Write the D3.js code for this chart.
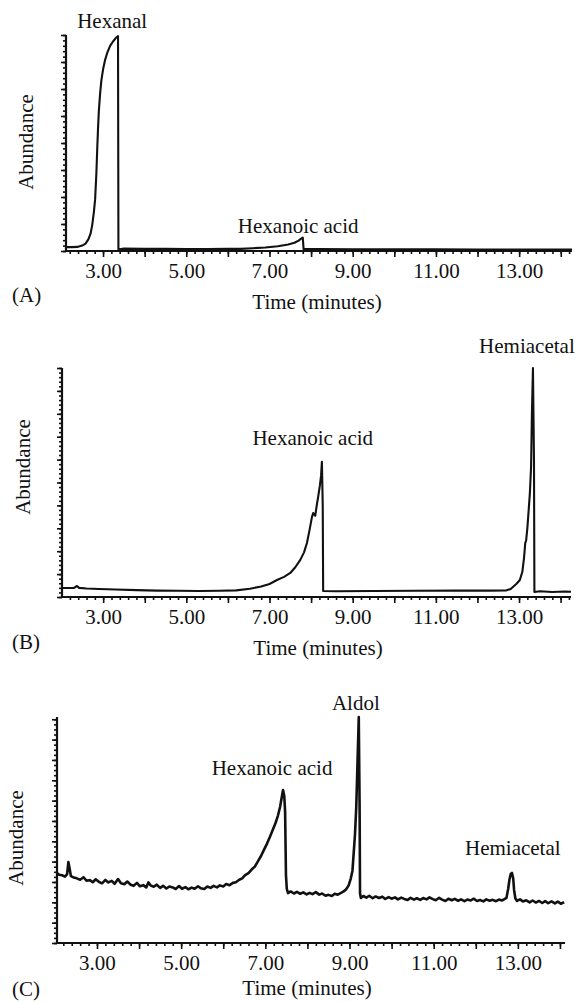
<!DOCTYPE html>
<html>
<head>
<meta charset="utf-8">
<script src="https://cdn.jsdelivr.net/npm/d3@7"></script>
<style>
  body { margin: 0; background: #fff; }
  svg { display: block; }
  text { font-family: "Liberation Serif", "DejaVu Serif", serif; font-size: 21px; fill: #111; }
</style>
</head>
<body>
<div id="chart"></div>
<script>
// Time axis labels (minutes)
const timeTicks = [3, 5, 7, 9, 11, 13];

// Chromatogram traces: [time (min), relative abundance]
const traceA = [
  [2.11, 1.8], [2.25, 1.8], [2.38, 1.9], [2.50, 2.5], [2.58, 3.4], [2.65, 5.5], [2.70, 8.0],
  [2.74, 12], [2.78, 18], [2.81, 24], [2.84, 36], [2.86, 47], [2.88, 57], [2.90, 65],
  [2.93, 73], [2.96, 79], [3.00, 84], [3.05, 88.5], [3.10, 91.7], [3.17, 95], [3.24, 97],
  [3.31, 98.7], [3.36, 99.5], [3.37, 0.7], [3.50, 1.1], [4.00, 1.0], [4.50, 1.0], [5.00, 0.9],
  [5.50, 0.9], [6.00, 1.0], [6.30, 1.0], [6.60, 1.3], [6.90, 1.6], [7.20, 2.2], [7.45, 3.0],
  [7.60, 3.8], [7.70, 4.8], [7.78, 6.0], [7.80, 6.2], [7.82, 0.9], [8.20, 0.9], [9.00, 0.8],
  [10.0, 0.8], [11.0, 0.8], [12.0, 0.7], [13.0, 0.7], [14.27, 0.7]
];

const traceB = [
  [2.01, 3.9], [2.15, 3.9], [2.30, 4.0], [2.37, 4.8], [2.42, 4.0], [2.60, 3.7], [2.90, 3.5],
  [3.30, 3.3], [3.80, 3.0], [4.30, 2.8], [4.80, 2.7], [5.30, 2.6], [5.80, 2.7], [6.20, 2.9],
  [6.53, 3.6], [6.80, 4.6], [7.00, 5.7], [7.18, 7.4], [7.35, 8.8], [7.50, 10.5], [7.62, 13.0],
  [7.74, 16.2], [7.83, 19.5], [7.90, 23.6], [7.96, 29], [8.02, 34.9], [8.05, 36.7], [8.07, 36.0],
  [8.10, 35.5], [8.14, 40.5], [8.17, 43.7], [8.21, 48.5], [8.24, 53.0], [8.26, 59.0], [8.28, 40],
  [8.29, 2.6], [8.60, 2.5], [9.50, 2.6], [10.5, 2.7], [11.5, 2.8], [12.3, 2.8], [12.70, 2.9],
  [12.80, 3.5], [12.86, 4.5], [12.94, 5.8], [13.02, 7.4], [13.08, 11], [13.12, 17], [13.15, 23.6],
  [13.17, 24.5], [13.20, 30], [13.22, 34.9], [13.26, 45], [13.29, 56.8], [13.31, 80], [13.335, 100],
  [13.36, 60], [13.37, 2.2], [13.50, 2.5], [13.80, 2.2], [14.10, 2.4], [14.25, 2.3]
];

const traceC = [
  [2.05, 31.0], [2.10, 30.2], [2.17, 30.0], [2.24, 29.4], [2.29, 30.5], [2.32, 35.8], [2.35, 33.0],
  [2.38, 29.6], [2.45, 29.0], [2.52, 28.6], [2.60, 28.0], [2.68, 29.1], [2.75, 27.6], [2.83, 27.8],
  [2.90, 26.9], [2.97, 28.2], [3.05, 27.0], [3.12, 26.4], [3.20, 27.9], [3.27, 26.8], [3.35, 27.5],
  [3.42, 26.2], [3.50, 28.3], [3.57, 26.4], [3.65, 26.0], [3.72, 27.2], [3.80, 25.8], [3.87, 25.3],
  [3.95, 26.6], [4.02, 25.1], [4.10, 25.6], [4.17, 24.6], [4.22, 26.8], [4.28, 25.4], [4.35, 24.9],
  [4.42, 25.8], [4.50, 24.4], [4.57, 25.3], [4.65, 24.1], [4.72, 25.0], [4.80, 24.6], [4.87, 23.9],
  [4.95, 25.2], [5.02, 24.0], [5.10, 24.7], [5.17, 23.8], [5.25, 24.5], [5.32, 24.0], [5.40, 25.1],
  [5.47, 24.2], [5.55, 23.9], [5.62, 25.0], [5.70, 24.4], [5.77, 25.3], [5.85, 24.6], [5.92, 25.5],
  [6.00, 25.0], [6.07, 26.1], [6.15, 25.6], [6.23, 26.6], [6.30, 26.9], [6.38, 28.0], [6.45, 28.6],
  [6.52, 30.0], [6.60, 30.9], [6.68, 32.6], [6.75, 33.8], [6.82, 36.0], [6.90, 38.6], [6.97, 41.3],
  [7.04, 44.0], [7.11, 47.0], [7.18, 50.2], [7.24, 53.0], [7.30, 56.4], [7.35, 60.2], [7.39, 64.5],
  [7.42, 67.7], [7.45, 65.0], [7.47, 58.0], [7.49, 30.0], [7.51, 24.0], [7.54, 22.1], [7.60, 22.8],
  [7.68, 21.9], [7.75, 22.6], [7.83, 21.8], [7.90, 22.4], [7.98, 21.5], [8.05, 22.2], [8.12, 21.6],
  [8.20, 22.5], [8.28, 21.4], [8.35, 21.9], [8.43, 20.9], [8.50, 21.3], [8.58, 20.8], [8.65, 21.8],
  [8.72, 21.4], [8.80, 22.2], [8.86, 22.8], [8.92, 23.8], [8.98, 25.5], [9.03, 28.5], [9.07, 32.0],
  [9.10, 40.0], [9.13, 48.0], [9.16, 60.0], [9.19, 80.0], [9.22, 100], [9.24, 60.0], [9.25, 22.0],
  [9.27, 19.9], [9.33, 20.8], [9.40, 20.1], [9.47, 20.9], [9.55, 19.8], [9.62, 20.6], [9.70, 19.9],
  [9.78, 20.5], [9.85, 19.5], [9.93, 20.3], [10.00, 19.6], [10.08, 20.2], [10.15, 19.3], [10.23, 20.1],
  [10.30, 19.5], [10.38, 19.0], [10.45, 20.0], [10.53, 19.2], [10.60, 19.8], [10.68, 19.1], [10.75, 19.9],
  [10.83, 19.3], [10.90, 20.2], [10.98, 19.4], [11.05, 18.9], [11.13, 20.0], [11.20, 19.2], [11.28, 18.6],
  [11.35, 19.6], [11.43, 18.9], [11.50, 19.5], [11.58, 18.7], [11.65, 19.3], [11.73, 18.5], [11.80, 19.2],
  [11.88, 18.8], [11.95, 19.6], [12.03, 18.6], [12.10, 19.0], [12.18, 18.4], [12.25, 19.3], [12.33, 18.7],
  [12.40, 19.1], [12.48, 18.5], [12.55, 19.2], [12.62, 18.8], [12.68, 19.4], [12.73, 20.0], [12.77, 24.0],
  [12.80, 28.0], [12.83, 30.5], [12.86, 31.0], [12.89, 28.5], [12.91, 23.5], [12.94, 19.8], [12.98, 18.6],
  [13.05, 19.3], [13.12, 18.4], [13.20, 18.9], [13.28, 18.0], [13.35, 18.8], [13.43, 17.9], [13.50, 18.6],
  [13.58, 17.7], [13.65, 18.5], [13.72, 17.6], [13.80, 18.4], [13.88, 17.5], [13.95, 18.3], [14.02, 17.4],
  [14.10, 18.0]
];

// Peak annotations: [text, time, abundance]
const labelsA = [["Hexanal", 3.22, 103.2], ["Hexanoic acid", 7.69, 8.3]];
const labelsB = [["Hexanoic acid", 8.04, 66.4], ["Hemiacetal", 13.19, 106.6]];
const labelsC = [["Hexanoic acid", 7.16, 74.3], ["Aldol", 9.15, 103.1], ["Hemiacetal", 12.88, 38.9]];

const width = 578, height = 1002;

// layout of the three stacked panels
const panels = [
  { tag: "(A)", trace: traceA, labels: labelsA, left: 66, right: 572, top: 35, bottom: 251,
    t0: 2.11, t1: 14.27, yMajor: 12.5, yMinor: 2.5, tagY: 302, titleX: 317, titleY: 309,
    yLabelX: 33, yLabelY: 142, lineWidth: 2.1 },
  { tag: "(B)", trace: traceB, labels: labelsB, left: 62, right: 571, top: 368, bottom: 597,
    t0: 2.01, t1: 14.25, yMajor: 10, yMinor: 2, tagY: 649, titleX: 318, titleY: 655,
    yLabelX: 30, yLabelY: 467, lineWidth: 2.1 },
  { tag: "(C)", trace: traceC, labels: labelsC, left: 57, right: 565, top: 717, bottom: 943,
    t0: 2.05, t1: 14.12, yMajor: 9, yMinor: 2.25, tagY: 996, titleX: 307, titleY: 995,
    yLabelX: 23, yLabelY: 838, lineWidth: 2.6 }
];

const svg = d3.select("#chart").append("svg")
    .attr("width", width)
    .attr("height", height);

panels.forEach(p => drawPanel(p));

function drawPanel(p) {
    const x = d3.scaleLinear().domain([p.t0, p.t1]).range([p.left, p.right]);
    const y = d3.scaleLinear().domain([0, 100]).range([p.bottom, p.top]);
    const g = svg.append("g");

    // minor / major ticks on the time axis
    const minor = d3.range(2.2, p.t1, 0.2).filter(t => t > p.t0);
    const major = d3.range(3, p.t1, 1);

    g.append("g")
        .attr("transform", `translate(0,${p.bottom})`)
        .call(d3.axisBottom(x).tickValues(minor).tickSize(3).tickSizeOuter(0).tickFormat(""))
        .call(a => a.select(".domain").remove());
    g.append("g")
        .attr("transform", `translate(0,${p.bottom})`)
        .call(d3.axisBottom(x).tickValues(major).tickSize(6).tickSizeOuter(0).tickFormat(""))
        .call(a => a.select(".domain").remove());
    g.append("g")
        .attr("transform", `translate(0,${p.bottom})`)
        .call(d3.axisBottom(x).tickValues(timeTicks).tickSize(0).tickPadding(12).tickFormat(d3.format(".2f")))
        .call(a => a.select(".domain").remove());

    // y ticks (no labels)
    g.append("g")
        .attr("transform", `translate(${p.left},0)`)
        .call(d3.axisLeft(y).tickValues(d3.range(0, 100.01, p.yMinor)).tickSize(3).tickSizeOuter(0).tickFormat(""))
        .call(a => a.select(".domain").remove());
    g.append("g")
        .attr("transform", `translate(${p.left},0)`)
        .call(d3.axisLeft(y).tickValues(d3.range(0, 100.01, p.yMajor)).tickSize(5).tickSizeOuter(0).tickFormat(""))
        .call(a => a.select(".domain").remove());

    g.selectAll(".tick line").attr("stroke", "#111").attr("stroke-width", 1.6);
    g.selectAll(".tick text")
        .style("font-family", '"Liberation Serif", "DejaVu Serif", serif')
        .style("font-size", "21px")
        .attr("fill", "#111");

    // axis frame (L shape)
    g.append("path")
        .attr("d", `M${p.left},${p.top}V${p.bottom}H${p.right}`)
        .attr("fill", "none")
        .attr("stroke", "#111")
        .attr("stroke-width", 2.2);

    // trace
    const line = d3.line().x(d => x(d[0])).y(d => y(d[1]));
    g.append("path")
        .datum(p.trace)
        .attr("d", line)
        .attr("fill", "none")
        .attr("stroke", "#111")
        .attr("stroke-width", p.lineWidth)
        .attr("stroke-linejoin", "round");

    // peak labels
    g.selectAll(".peak")
        .data(p.labels)
        .enter().append("text")
        .attr("class", "peak")
        .attr("x", d => x(d[1]))
        .attr("y", d => y(d[2]))
        .attr("text-anchor", "middle")
        .text(d => d[0]);

    // axis titles
    g.append("text")
        .attr("x", p.titleX)
        .attr("y", p.titleY)
        .attr("text-anchor", "middle")
        .text("Time (minutes)");

    g.append("text")
        .attr("transform", `translate(${p.yLabelX},${p.yLabelY}) rotate(-90)`)
        .attr("text-anchor", "middle")
        .text("Abundance");

    g.append("text")
        .attr("x", 12)
        .attr("y", p.tagY)
        .text(p.tag);
}
</script>
</body>
</html>
